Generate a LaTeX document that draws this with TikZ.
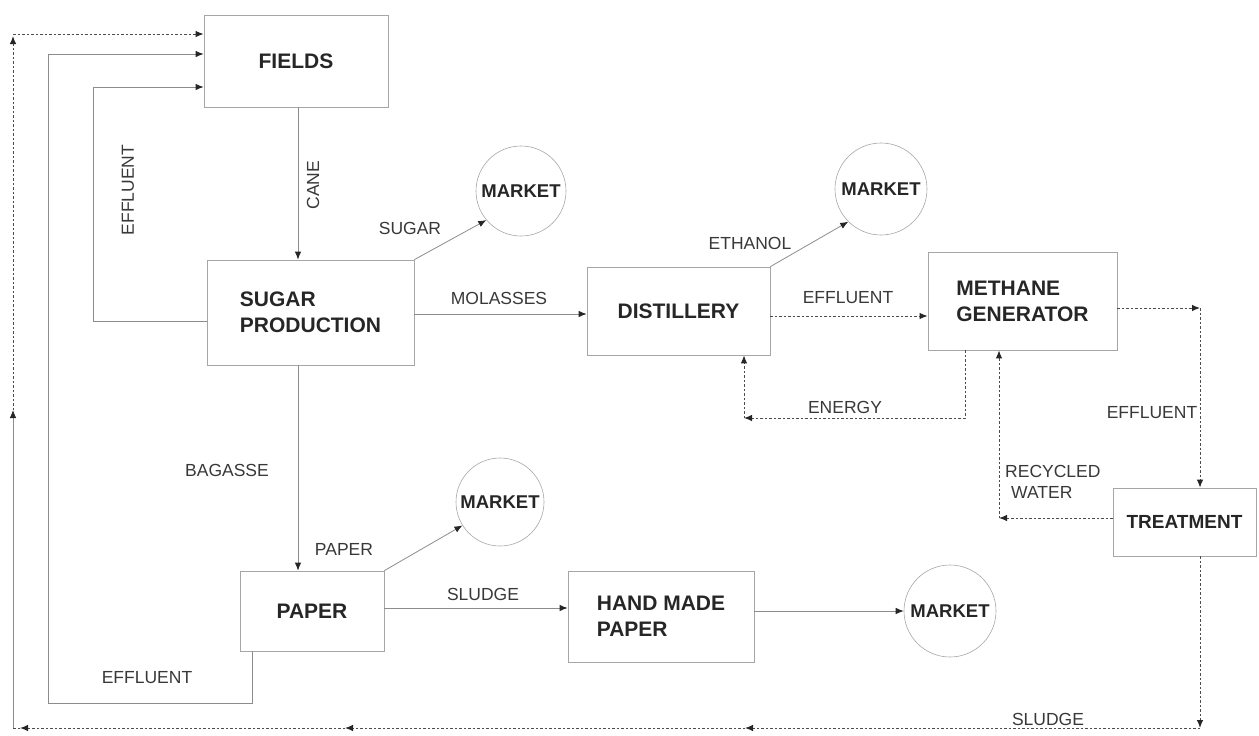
\documentclass[tikz,border=0pt]{standalone}
\usepackage{fontspec}
\setmainfont{Liberation Sans}
\usetikzlibrary{arrows.meta}
\begin{document}
\begin{tikzpicture}[x=1pt,y=-1pt,
  box/.style={draw=black!35,line width=0.8pt,inner sep=0pt,font=\fontsize{21}{26}\selectfont\bfseries,text=black!85,align=left},
  mkt/.style={circle,draw=black!35,line width=0.6pt,inner sep=0pt,minimum size=#1,font=\fontsize{18.5}{22}\selectfont\bfseries,text=black!85},
  lbl/.style={font=\fontsize{17.5}{22}\selectfont,text=black!78,inner sep=0pt,align=left},
  conn/.style={draw=black!45,line width=0.8pt,-{Latex[length=8pt,width=6.5pt,color=black!85]}},
  plain/.style={draw=black!45,line width=0.8pt},
  dotconn/.style={draw=black!70,line width=1pt,dash pattern=on 2.5pt off 2pt,-{Latex[length=8pt,width=6.5pt,color=black!85]}},
  dotplain/.style={draw=black!70,line width=1pt,dash pattern=on 2.5pt off 2pt}]
\useasboundingbox (0,0) rectangle (1259,736);

% boxes
\node[box,minimum width=184,minimum height=92] (fields) at (296,61) {FIELDS};
\node[box,minimum width=207,minimum height=105] (sp) at (310.5,312.5) {SUGAR\\PRODUCTION};
\node[box,minimum width=183,minimum height=88] (dist) at (678.5,311) {DISTILLERY};
\node[box,minimum width=189,minimum height=98] (meth) at (1022.5,301) {METHANE\\GENERATOR};
\node[box,minimum width=143,minimum height=68,font=\fontsize{19}{24}\selectfont\bfseries] (treat) at (1184.5,522) {TREATMENT};
\node[box,minimum width=144,minimum height=80] (paper) at (312,611) {PAPER};
\node[box,minimum width=186,minimum height=91] (hmp) at (661,616.5) {HAND MADE\\PAPER};

% markets
\node[mkt=90] (m1) at (521,191) {MARKET};
\node[mkt=92] (m2) at (881,189) {MARKET};
\node[mkt=88] (m3) at (500,502) {MARKET};
\node[mkt=92] (m4) at (950,611) {MARKET};

% solid connectors
\draw[conn] (fields.south -| 298,0) -- (sp.north -| 298,0);
\draw[conn] (sp.west |- 0,321) -- (93,321) -- (93,87) -- (fields.west |- 0,87);
\draw[conn] (paper.south -| 252,0) -- (252,703) -- (48,703) -- (48,54) -- (fields.west |- 0,54);
\draw[conn] (sp.north east) -- (m1.220);
\draw[conn] (sp.east |- 0,314) -- (dist.west |- 0,314);
\draw[conn] (dist.north east) -- (m2.225);
\draw[conn] (sp.south -| 298,0) -- (paper.north -| 298,0);
\draw[conn] (paper.north east) -- (m3.212);
\draw[conn] (paper.east |- 0,608) -- (hmp.west |- 0,608);
\draw[conn] (hmp.east |- m4.west) -- (m4.west);

% dotted connectors
\draw[dotconn] (dist.east |- 0,316) -- (meth.west |- 0,316);
\coordinate (eA) at (965,418);
\coordinate (eB) at (744,418);
\draw[dotconn] (meth.south -| eA) -- (eA) -- (eB);
\draw[dotconn] (eB) -- (dist.south -| eB);
\coordinate (tA) at (1200,308);
\draw[dotconn] (meth.east |- tA) -- (tA);
\draw[dotconn] (tA) -- (treat.north -| tA);
\coordinate (rA) at (999,518);
\draw[dotconn] (treat.west |- rA) -- (rA);
\draw[dotconn] (rA) -- (meth.south -| rA);
\coordinate (bA) at (1200,728);
\coordinate (bB) at (745,728);
\coordinate (bC) at (345,728);
\coordinate (bD) at (20,728);
\coordinate (bE) at (13,728);
\coordinate (lA) at (13,410);
\coordinate (lB) at (13,36);
\coordinate (lC) at (13,34);
\draw[dotconn] (treat.south -| bA) -- (bA);
\draw[dotconn] (bA) -- (bB);
\draw[dotconn] (bB) -- (bC);
\draw[dotconn] (bC) -- (bD);
\draw[dotplain] (bD) -- (bE);
\draw[conn] (bE) -- (lA);
\draw[dotconn] (lA) -- (lB);
\draw[dotconn] (lC) -- (fields.west |- lC);

% labels
\node[lbl,rotate=90] (lcane) at (313,185) {CANE};
\node[lbl,rotate=90] (leff1) at (128,190) {EFFLUENT};
\node[lbl] (lsugar) at (410,228) {SUGAR};
\node[lbl] (lmol) at (499,298) {MOLASSES};
\node[lbl] (leth) at (750,243) {ETHANOL};
\node[lbl] (leff2) at (848,298) {EFFLUENT};
\node[lbl] (lenergy) at (845,407) {ENERGY};
\node[lbl] (leff3) at (1152,413) {EFFLUENT};
\node[lbl,anchor=west] (lrec) at (1005,482) {RECYCLED\\[-1pt]\hspace{6pt}WATER};
\node[lbl] (lbag) at (227,470) {BAGASSE};
\node[lbl] (lpaper) at (344,549) {PAPER};
\node[lbl] (lsl1) at (483,594) {SLUDGE};
\node[lbl] (leff4) at (147,678) {EFFLUENT};
\node[lbl] (lsl2) at (1048,719) {SLUDGE};
\end{tikzpicture}
\end{document}
